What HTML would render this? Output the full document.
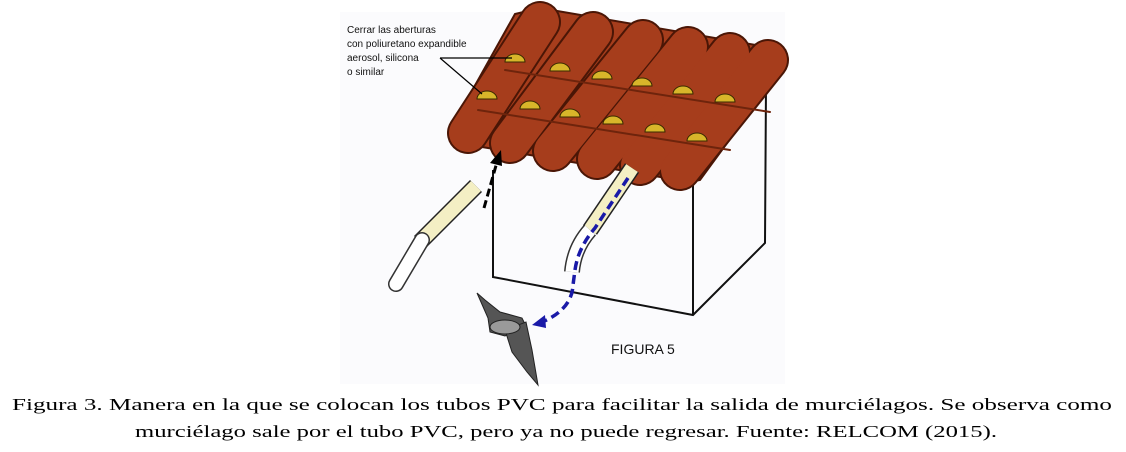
<!DOCTYPE html>
<html><head><meta charset="utf-8"><style>
html,body{margin:0;padding:0;background:#fff;}
svg{display:block;}
</style></head><body>
<svg width="1126" height="452" viewBox="0 0 1126 452" xmlns="http://www.w3.org/2000/svg">
<rect width="1126" height="452" fill="#fff"/>
<rect x="340" y="12" width="445" height="372" fill="#fbfbfd"/>
<!-- house box -->
<g fill="none" stroke="#111" stroke-width="2">
<polyline points="493,170 493,277 693,315 765,243 766,85"/>
<line x1="693" y1="180" x2="693" y2="315"/>
</g>
<!-- roof base -->
<polygon points="449,132 515,14 540,8 785,50 782,68 700,180 690,182 560,160 470,145" fill="#a63d1c" stroke="#4a1606" stroke-width="2"/>
<!-- roof columns -->
<g stroke-linecap="round">
<g stroke="#4a1606" stroke-width="42">
<line x1="540" y1="22" x2="468" y2="133"/>
<line x1="593" y1="32" x2="510" y2="143"/>
<line x1="643" y1="40" x2="553" y2="151"/>
<line x1="688" y1="47" x2="597" y2="159"/>
<line x1="730" y1="53" x2="640" y2="165"/>
<line x1="768" y1="60" x2="680" y2="170"/>
</g>
<g stroke="#a63d1c" stroke-width="38">
<line x1="540" y1="22" x2="468" y2="133"/>
<line x1="593" y1="32" x2="510" y2="143"/>
<line x1="643" y1="40" x2="553" y2="151"/>
<line x1="688" y1="47" x2="597" y2="159"/>
<line x1="730" y1="53" x2="640" y2="165"/>
<line x1="768" y1="60" x2="680" y2="170"/>
</g>
<g stroke="#6e240c" stroke-width="2" fill="none">
<line x1="505" y1="70" x2="770" y2="112"/>
<line x1="478" y1="110" x2="730" y2="150"/>
</g>
</g>
<!-- holes -->
<g fill="#d8b62a" stroke="#3a2a00" stroke-width="1">
<path d="M505,62 a10,8 0 0 1 20,0 z"/><path d="M550,71 a10,8 0 0 1 20,0 z"/>
<path d="M592,79 a10,8 0 0 1 20,0 z"/><path d="M632,86 a10,8 0 0 1 20,0 z"/>
<path d="M673,94 a10,8 0 0 1 20,0 z"/><path d="M715,102 a10,8 0 0 1 20,0 z"/>
<path d="M477,99 a10,8 0 0 1 20,0 z"/><path d="M520,109 a10,8 0 0 1 20,0 z"/>
<path d="M560,117 a10,8 0 0 1 20,0 z"/><path d="M603,124 a10,8 0 0 1 20,0 z"/>
<path d="M645,132 a10,8 0 0 1 20,0 z"/><path d="M687,141 a10,8 0 0 1 20,0 z"/>
</g>
<!-- pointer lines -->
<g stroke="#000" stroke-width="1.2">
<line x1="440" y1="58" x2="512" y2="58"/>
<line x1="440" y1="58" x2="482" y2="94"/>
</g>
<g font-family="Liberation Sans, sans-serif" font-size="10" fill="#111">
<text x="347" y="33">Cerrar las aberturas</text>
<text x="347" y="47">con poliuretano expandible</text>
<text x="347" y="61">aerosol, silicona</text>
<text x="347" y="75">o similar</text>
</g>
<!-- left tube -->
<line x1="476" y1="186" x2="420" y2="242" stroke="#222" stroke-width="17"/>
<line x1="476" y1="186" x2="420" y2="242" stroke="#f4efc4" stroke-width="14"/>
<line x1="422" y1="240" x2="396" y2="284" stroke="#333" stroke-width="16" stroke-linecap="round"/>
<line x1="422" y1="240" x2="396" y2="284" stroke="#fff" stroke-width="13" stroke-linecap="round"/>
<line x1="484" y1="208" x2="497" y2="162" stroke="#000" stroke-width="3" stroke-dasharray="8,4"/>
<polygon points="501,150 490,163 502,166" fill="#000"/>
<!-- right tube -->
<line x1="632" y1="168" x2="590" y2="230" stroke="#222" stroke-width="17"/>
<line x1="632" y1="168" x2="590" y2="230" stroke="#f4efc4" stroke-width="14"/>
<path d="M590,230 Q574,248 572,272" fill="none" stroke="#333" stroke-width="16"/>
<path d="M590,230 Q574,248 572,272" fill="none" stroke="#fff" stroke-width="13"/>
<path d="M628,178 L595,228 Q578,248 575,270 L573,285 Q572,310 540,323" fill="none" stroke="#1a1aa8" stroke-width="3.5" stroke-dasharray="9,5"/>
<polygon points="532,325 545,315 546,328" fill="#1a1aa8"/>
<!-- bat -->
<g fill="#555" stroke="#222" stroke-width="1">
<path d="M477,293 L485,300 L500,312 L522,318 L526,326 L505,336 L490,332 L488,318 Z"/>
<path d="M505,330 L526,322 L532,350 L538,385 L527,372 L512,352 Z"/>
<ellipse cx="505" cy="327" rx="15" ry="7" fill="#9a9a9a"/>
</g>
<text x="611" y="354" font-family="Liberation Sans, sans-serif" font-size="14" fill="#111">FIGURA 5</text>
<!-- caption -->
<g font-family="Liberation Serif, serif" font-size="17" fill="#000">
<text x="12" y="410" textLength="1100" lengthAdjust="spacingAndGlyphs">Figura 3. Manera en la que se colocan los tubos PVC para facilitar la salida de murciélagos. Se observa como</text>
<text x="135" y="437" textLength="862" lengthAdjust="spacingAndGlyphs">murciélago sale por el tubo PVC, pero ya no puede regresar. Fuente: RELCOM (2015).</text>
</g>
</svg>
</body></html>
